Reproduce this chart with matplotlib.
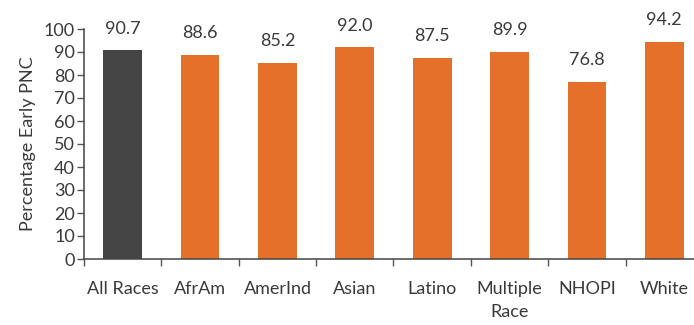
import numpy as np
import matplotlib.pyplot as plt
from matplotlib.ticker import FixedLocator

groups = ["All Races", "AfrAm", "AmerInd", "Asian", "Latino", "Multiple\nRace", "NHOPI", "White"]
pct_early_pnc = [90.7, 88.6, 85.2, 92.0, 87.5, 89.9, 76.8, 94.2]

plt.rcParams['font.family'] = ['Lato', 'DejaVu Sans']
txt = "#3a3a3a"
fs = 13

fig = plt.figure(figsize=(6.94, 3.25), dpi=100)
ax = fig.add_axes([84/694, 1 - 259/325, (703 - 84)/694, (259 - 29)/325])

x = np.arange(len(groups))
colors = ["#454545"] + ["#E5702A"] * (len(groups) - 1)
bars = ax.bar(x, pct_early_pnc, width=0.5, color=colors)

for xi, v in zip(x, pct_early_pnc):
    ax.annotate(f"{v:.1f}", (xi, v), xytext=(0, 10), textcoords="offset points",
                ha="center", va="bottom", fontsize=fs, color=txt)

ax.set_xlim(-0.5, len(groups) - 0.5)
ax.set_ylim(0, 100)
ax.set_yticks(range(0, 101, 10))
ax.set_xticks(x)
ax.set_xticklabels(groups, fontsize=fs, color=txt, linespacing=1.55)
ax.xaxis.set_minor_locator(FixedLocator(np.arange(-0.5, len(groups), 1)))
ax.tick_params(axis="x", which="major", length=0, pad=16)
ax.tick_params(axis="x", which="minor", length=5, width=1, color="#555555", direction="out")
ax.tick_params(axis="y", length=5, width=1, color="#555555", labelsize=fs,
               labelcolor=txt, pad=1.5)
ax.set_ylabel("Percentage Early PNC", fontsize=fs, color=txt, labelpad=6)

for s in ["top", "right"]:
    ax.spines[s].set_visible(False)
for s in ["left", "bottom"]:
    ax.spines[s].set_color("#444444")
    ax.spines[s].set_linewidth(1.1)

fig.savefig("out.png", dpi=100)
